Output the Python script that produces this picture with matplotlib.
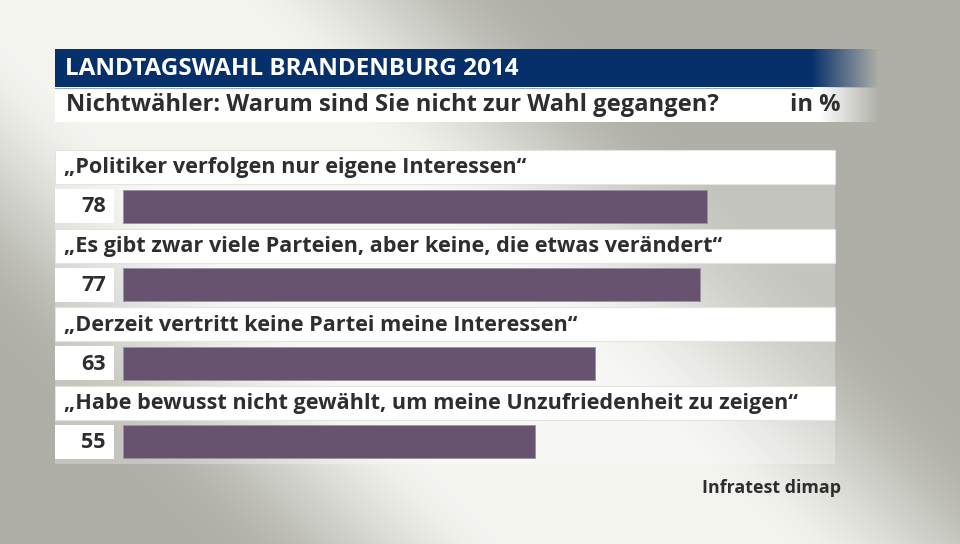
import numpy as np
import matplotlib
matplotlib.use("Agg")
import matplotlib.pyplot as plt
from matplotlib.patches import Rectangle

# ---- data ----
title = "LANDTAGSWAHL BRANDENBURG 2014"
subtitle = "Nichtwähler: Warum sind Sie nicht zur Wahl gegangen?"
unit = "in %"
categories = [
    "„Politiker verfolgen nur eigene Interessen“",
    "„Es gibt zwar viele Parteien, aber keine, die etwas verändert“",
    "„Derzeit vertritt keine Partei meine Interessen“",
    "„Habe bewusst nicht gewählt, um meine Unzufriedenheit zu zeigen“",
]
values = [78, 77, 63, 55]
source = "Infratest dimap"

W, H = 960, 544
FONT = "Open Sans"
TXT = "#2e2e2e"
BAR = "#67526f"
BLUE = (0x06 / 255, 0x30 / 255, 0x6a / 255)

fig = plt.figure(figsize=(W / 100, H / 100), dpi=100)

# ---- background gradient ----
bg = fig.add_axes([0, 0, 1, 1])
bg.set_axis_off()
yy, xx = np.mgrid[0:H, 0:W].astype(float)
slope, icpt = 1.0, -100.0
d = (yy - (icpt + slope * xx)) / np.sqrt(1 + slope ** 2)
t = np.clip((np.abs(d) - 90) / 220, 0, 1)
t = t * t * (3 - 2 * t)
light = np.array([0.957, 0.957, 0.941])
gray = np.array([0.69, 0.69, 0.66])
img = light[None, None, :] * (1 - t[..., None]) + gray[None, None, :] * t[..., None]
bg.imshow(img, extent=[0, W, H, 0], origin="upper", aspect="auto",
          interpolation="bilinear")
bg.set_xlim(0, W)
bg.set_ylim(H, 0)

# ---- decoration layer in pixel coordinates ----
deco = fig.add_axes([0, 0, 1, 1], facecolor="none")
deco.set_axis_off()

def fade_band(x0, x1, xs, y0, y1, rgb):
    n = 400
    xs_ = np.linspace(x0, x1, n)
    a = np.clip((x1 - xs_) / (x1 - xs), 0, 1)
    arr = np.zeros((1, n, 4))
    arr[0, :, :3] = rgb
    arr[0, :, 3] = a
    deco.imshow(arr, extent=[x0, x1, y1, y0], aspect="auto",
                interpolation="bilinear", zorder=2)

fade_band(55, 880, 812, 49, 88, BLUE)
fade_band(55, 880, 820, 88, 122.5, (1, 1, 1))
deco.plot([55, 812], [88, 88], color="#9aa7bd", lw=0.8, zorder=3)
deco.set_xlim(0, W)
deco.set_ylim(H, 0)

deco.text(65, 69, title, color="white", fontsize=17.5, fontweight="bold",
          family=FONT, va="center", ha="left", zorder=4)
deco.text(66, 105, subtitle, color=TXT, fontsize=17.1, fontweight="bold",
          family=FONT, va="center", ha="left", zorder=4)
deco.text(841, 105, unit, color=TXT, fontsize=17.1, fontweight="bold",
          family=FONT, va="center", ha="right", zorder=4)

pitch = 78.5
top0 = 150
strip_h = 34
for i, (cat, v) in enumerate(zip(categories, values)):
    top = top0 + pitch * i
    deco.add_patch(Rectangle((55, top), 780, strip_h, facecolor="white",
                             edgecolor="#e4e4df", lw=0.8, zorder=2))
    deco.text(64, top + strip_h / 2 + 1, cat, color=TXT, fontsize=15.6,
              fontweight="bold", family=FONT, va="center", ha="left", zorder=4)
    deco.add_patch(Rectangle((55, top + strip_h), 780, pitch - strip_h,
                             facecolor="white", alpha=0.28, lw=0, zorder=1.5))
    btop = top + 39
    deco.add_patch(Rectangle((55, btop), 59, 34, facecolor="white", lw=0, zorder=2))
    deco.text(106, btop + 17 + 1, str(v), color=TXT, fontsize=15.6,
              fontweight="bold", family=FONT, va="center", ha="right", zorder=4)

deco.text(841, 488, source, color=TXT, fontsize=12.9, fontweight="bold",
          family=FONT, va="center", ha="right", zorder=4)

# ---- bars on their own axes ----
ax_top, ax_bot = top0, top0 + pitch * len(values)
axb = fig.add_axes([123 / W, 1 - ax_bot / H, (835 - 123) / W, (ax_bot - ax_top) / H],
                   facecolor="none")
axb.set_axis_off()
n = len(values)
offset = (39 + 17) / pitch - 0.5
ypos = np.arange(n) + offset
axb.barh(ypos, values, height=33 / pitch, color=BAR, edgecolor="#9d8fa3",
         linewidth=0.6, zorder=3)
axb.set_xlim(0, 95.06)
axb.set_ylim(n - 0.5, -0.5)

fig.savefig("out.png", dpi=100)
